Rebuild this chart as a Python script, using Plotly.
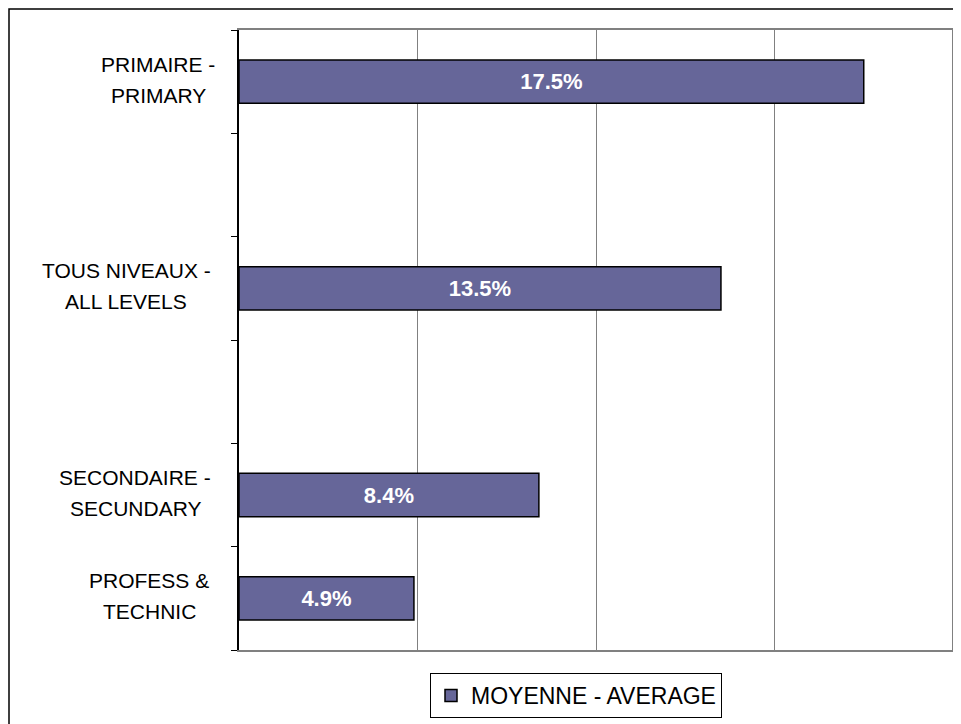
import plotly.graph_objects as go

# Data (bottom to top); blank slots are empty categories in the original chart
categories = ["PROFESS & TECHNIC", "SECONDAIRE - SECUNDARY", "blank1", "TOUS NIVEAUX - ALL LEVELS", "blank2", "PRIMAIRE - PRIMARY"]
label_lines = [["PROFESS &", "TECHNIC"], ["SECONDAIRE -", "SECUNDARY"], [], ["TOUS NIVEAUX -", "ALL LEVELS"], [], ["PRIMAIRE -", "PRIMARY"]]
values = [4.9, 8.4, None, 13.5, None, 17.5]
series_name = "MOYENNE - AVERAGE"

bar_x = [v for v in values if v is not None]
bar_y = [c for c, v in zip(categories, values) if v is not None]

# page is offset by 8px body margin; figure coordinates below
W, H = 961, 724
L, T = 231, 22
R = W - 945
B = H - 642
pw, ph = W - L - R, H - T - B

FONT = "Liberation Sans, Arial"

fig = go.Figure()
fig.add_trace(go.Bar(
    x=bar_x, y=bar_y, orientation="h", name=series_name,
    marker=dict(color="#666699", line=dict(color="#000000", width=1.5)),
    width=0.42,
    text=[f"{v:.1f}%" for v in bar_x],
    textposition="inside", insidetextanchor="middle",
    textfont=dict(family=FONT, size=22, color="white", weight="bold"),
    showlegend=True,
))

# horizontal centre (figure px) of each category label block
label_center = [141, 127, 0, 118, 0, 150]
for c, lines, cx in zip(categories, label_lines, label_center):
    if not lines:
        continue
    n = len(lines)
    for i, line in enumerate(lines):
        fig.add_annotation(
            x=(cx - L) / pw, xref="paper", y=c, yref="y",
            xanchor="center", yanchor="middle",
            text=line, showarrow=False, yshift=((n - 1) / 2 - i) * 31 + 2,
            font=dict(family=FONT, size=21, color="#000000"),
        )

# outer chart border (figure edge)
fig.add_shape(type="rect", xref="paper", yref="paper",
              x0=(1 - L) / pw, x1=(W - 1 - L) / pw, y0=-(B - 1) / ph, y1=1 + (T - 1) / ph,
              line=dict(color="#000000", width=1.5))
# right plot border
fig.add_shape(type="line", xref="paper", yref="paper", x0=1, x1=1, y0=0, y1=1,
              line=dict(color="#808080", width=2))

fig.update_layout(
    width=W, height=H,
    margin=dict(l=L, r=R, t=T, b=B, pad=0),
    paper_bgcolor="white", plot_bgcolor="white",
    xaxis=dict(range=[0, 20], dtick=5, showgrid=True, gridcolor="#808080", gridwidth=1.2,
               showticklabels=False, ticks="", showline=True, linecolor="#808080",
               linewidth=2, mirror=True, zeroline=False, fixedrange=True),
    yaxis=dict(type="category", categoryorder="array", categoryarray=categories,
               range=[-0.5, 5.5], showticklabels=False, ticks="outside", ticklen=6,
               tickcolor="#000000", tickwidth=1.2, tickson="boundaries",
               showline=True, linecolor="#000000", linewidth=1.5, showgrid=False,
               zeroline=False, fixedrange=True),
    legend=dict(orientation="h", x=(568 - L) / pw, xanchor="center",
                y=-(665 - (T + ph)) / ph, yanchor="top", itemwidth=30,
                bordercolor="#000000", borderwidth=1, bgcolor="white",
                font=dict(family=FONT, size=23, color="#000000")),
    font=dict(family=FONT),
)

fig.write_html("out.html")
